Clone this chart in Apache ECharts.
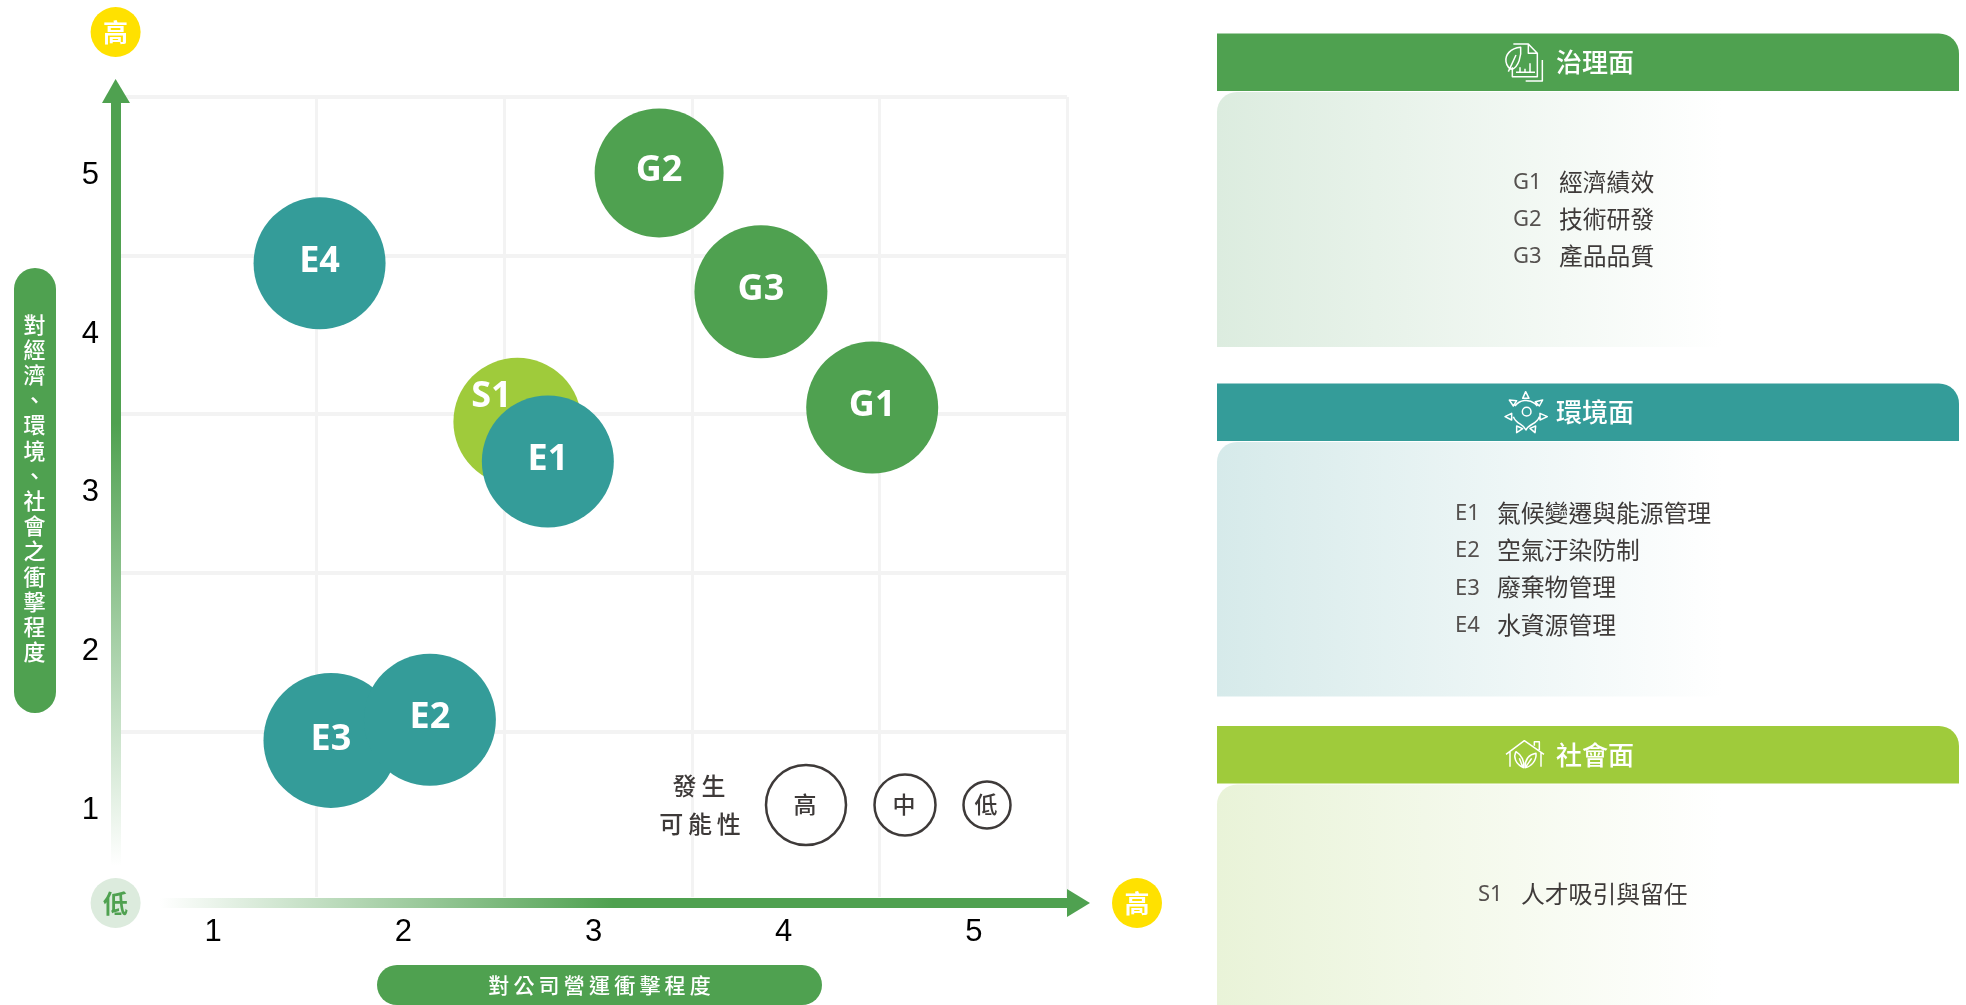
<!DOCTYPE html>
<html>
<head>
<meta charset="utf-8">
<title>重大主題矩陣</title>
<script src="https://cdn.jsdelivr.net/npm/echarts@6/dist/echarts.min.js"></script>
<style>
    html, body { margin: 0; padding: 0; background: #fff; }
    #main { width: 1966px; height: 1005px; }
</style>
</head>
<body>
<div id="main"></div>
<script>
// 資料
var bubbleNames = ['S1', 'E3', 'E2', 'E1', 'E4', 'G2', 'G3', 'G1'];
var bubbleX = [2.60, 1.62, 2.14, 2.76, 1.56, 3.345, 3.88, 4.465];
var bubbleY = [3.43, 1.42, 1.55, 3.18, 4.43, 5.00, 4.25, 3.52];
var tickLabels = [1, 2, 3, 4, 5];
// 格線落在刻度之間
var xGridValues = [1.541, 2.53, 3.518, 4.5, 5.489];
var yGridValues = [1.473, 2.476, 3.479, 4.476, 5.479];
var legendLevels = ['高', '中', '低'];
var legendTitle = ['發生', '可能性'];
var xAxisTitle = '對公司營運衝擊程度';
var yAxisTitle = '對經濟、環境、社會之衝擊程度';
var lowLabel = '低';
var highLabel = '高';
var governanceTitle = '治理面';
var governanceCodes = ['G1', 'G2', 'G3'];
var governanceItems = ['經濟績效', '技術研發', '產品品質'];
var environmentTitle = '環境面';
var environmentCodes = ['E1', 'E2', 'E3', 'E4'];
var environmentItems = ['氣候變遷與能源管理', '空氣汙染防制', '廢棄物管理', '水資源管理'];
var socialTitle = '社會面';
var socialCodes = ['S1'];
var socialItems = ['人才吸引與留任'];

// 樣式
var GREEN = '#4fa150';
var TEAL = '#349c99';
var LIME = '#9fcb3b';
var YELLOW = '#ffe100';
var INK = '#3e3a39';
var CJK = '"Noto Sans CJK TC", sans-serif';
var bubbleColors = { S: LIME, E: TEAL, G: GREEN };
var bubbleSizes = { S1: 128, E1: 132, E2: 132, E3: 135, E4: 132, G1: 132, G2: 129, G3: 133 };
var labelOffsets = { S1: [-26, -25], E1: [0, -2], E2: [0, -2], E3: [0, -1], E4: [0, -2], G1: [0, -2], G2: [0, -2], G3: [0, -2] };

function spaced(s) {
    return s.split('').join('\u2009');
}

function text(str, x, y, size, fill, weight, align, family) {
    return {
        type: 'text',
        z: 20,
        style: {
            text: str,
            x: x,
            y: y,
            fill: fill,
            font: (weight || 400) + ' ' + size + 'px ' + (family || CJK),
            textAlign: align || 'center',
            textVerticalAlign: 'middle'
        }
    };
}

function rect(x, y, w, h, r, fill, z) {
    return { type: 'rect', z: z || 10, shape: { x: x, y: y, width: w, height: h, r: r }, style: { fill: fill } };
}

function dot(cx, cy, r, fill, stroke) {
    return {
        type: 'circle',
        z: 10,
        shape: { cx: cx, cy: cy, r: r },
        style: { fill: fill, stroke: stroke || null, lineWidth: stroke ? 2.5 : 0 }
    };
}

// 圖示
echarts.graphic.registerShape('leafDocIcon', echarts.graphic.extendPath(
    'M100 42 L145 42 L172 70 L172 140 L97 140 L97 112 ' +
    'M145 42 L145 70 L172 70 ' +
    'M187 90 L187 153 L137 153 ' +
    'M108 127 L165 127 M120 112 L120 127 M135 116 L135 127 M150 100 L150 127 ' +
    'M122 52 C90 55 75 75 78 95 C80 110 90 118 97 118 C115 110 125 80 122 52 Z ' +
    'M85 125 L108 75', {}));
echarts.graphic.registerShape('sunIcon', echarts.graphic.extendPath(
    'M137 35 L128 55 L147 55 Z ' +
    'M88 60 L110 62 L100 78 Z ' +
    'M188 60 L166 65 L178 78 Z ' +
    'M75 110 L95 100 L95 120 Z ' +
    'M202 110 L180 100 L180 120 Z ' +
    'M110 158 L110 138 L128 146 Z ' +
    'M165 158 L150 145 L167 138 Z ' +
    'M153 95 A13 13 0 1 1 127 95 A13 13 0 1 1 153 95 Z ' +
    'M105 78 A42 42 0 0 1 172 78 ' +
    'M100 110 C110 135 130 130 138 150 C146 130 170 135 178 110', {}));
echarts.graphic.registerShape('houseIcon', echarts.graphic.extendPath(
    'M78 88 L133 47 L192 88 ' +
    'M163 62 L163 50 L178 50 L178 75 ' +
    'M90 80 L90 125 M183 80 L183 125 ' +
    'M130 128 C105 115 100 95 108 80 C125 90 135 110 130 128 Z ' +
    'M135 128 C135 100 150 88 168 85 C170 105 155 125 135 128 Z ' +
    'M118 100 L128 125 M155 100 L138 125', {}));

function icon(x, y, name) {
    return {
        type: name,
        x: x,
        y: y,
        scaleX: 1 / 3,
        scaleY: 1 / 3,
        z: 20,
        style: { fill: 'none', stroke: '#fff', lineWidth: 4.5, lineJoin: 'round' }
    };
}

function panel(top, panelBottom, color, tint, title, codes, items, codeX, nameX, firstY, iconX, iconY, iconName) {
    var out = [
        rect(1217, top, 742, 57.5, [0, 20, 0, 0], color),
        rect(1217, top + 58.5, 742, panelBottom - top - 58.5, [20, 0, 0, 0], {
            type: 'linear', x: 0, y: 0, x2: 1, y2: 0,
            colorStops: [{ offset: 0, color: tint }, { offset: 0.68, color: '#ffffff' }]
        }),
        text(title, 1595, top + 29, 26, '#fff', 500),
        icon(iconX, iconY, iconName)
    ];
    for (var i = 0; i < codes.length; i++) {
        out.push(text(codes[i], codeX, firstY + 1 + i * 37.2, 22, '#55514f', 400, 'left', '"Noto Sans", sans-serif'));
        out.push(text(items[i], nameX, firstY + i * 37.2, 23.8, INK, 400, 'left'));
    }
    return out;
}

var graphics = [];
// 座標軸箭頭
graphics.push(rect(111, 103, 10, 763, 0, {
    type: 'linear', x: 0, y: 0, x2: 0, y2: 1,
    colorStops: [{ offset: 0, color: GREEN }, { offset: 0.42, color: GREEN }, { offset: 1, color: '#ffffff' }]
}));
graphics.push({ type: 'polygon', z: 10, shape: { points: [[115.6, 79], [102, 103], [130, 103]] }, style: { fill: GREEN } });
graphics.push(rect(160, 898, 907, 10, 0, {
    type: 'linear', x: 0, y: 0, x2: 1, y2: 0,
    colorStops: [{ offset: 0, color: '#ffffff' }, { offset: 0.5, color: GREEN }, { offset: 1, color: GREEN }]
}));
graphics.push({ type: 'polygon', z: 10, shape: { points: [[1067, 889], [1090, 903], [1067, 917]] }, style: { fill: GREEN } });
// 高、低標記
graphics.push(dot(115.6, 32, 25, YELLOW), text(highLabel, 115.6, 32, 25, '#fff', 700));
graphics.push(dot(115.6, 903, 25, '#dcebdd'), text(lowLabel, 115.6, 903, 25, GREEN, 700));
graphics.push(dot(1137, 903, 25, YELLOW), text(highLabel, 1137, 903, 25, '#fff', 700));
// 軸標題
graphics.push(rect(14, 268, 42, 445, 21, GREEN));
graphics.push({
    type: 'text',
    z: 20,
    style: {
        text: yAxisTitle.split('').join('\n'),
        x: 34.5,
        y: 488,
        fill: '#fff',
        font: '500 22px ' + CJK,
        lineHeight: 25.2,
        textAlign: 'center',
        textVerticalAlign: 'middle'
    }
});
graphics.push(rect(377, 965, 445, 40, 20, GREEN));
graphics.push(text(spaced(xAxisTitle), 599.5, 985.5, 21, '#fff', 500));
// 圖例
graphics.push(text(spaced(legendTitle[0]), 699, 786, 24, INK, 500));
graphics.push(text(spaced(legendTitle[1]), 700, 824, 24, INK, 500));
graphics.push(dot(806, 805, 40, '#fff', INK), text(legendLevels[0], 805, 804, 23, INK, 500));
graphics.push(dot(905, 805, 30.5, '#fff', INK), text(legendLevels[1], 904, 804, 23, INK, 500));
graphics.push(dot(987, 805, 23.5, '#fff', INK), text(legendLevels[2], 986, 804, 23, INK, 500));
// 右側說明
graphics = graphics.concat(
    panel(33.5, 347, GREEN, '#dcecdf', governanceTitle, governanceCodes, governanceItems, 1513, 1559, 181.5, 1480, 30, 'leafDocIcon'),
    panel(383.5, 696.5, TEAL, '#d6eaea', environmentTitle, environmentCodes, environmentItems, 1455, 1497, 513, 1480, 380, 'sunIcon'),
    panel(726, 1010, LIME, '#e9f3d8', socialTitle, socialCodes, socialItems, 1478, 1521, 894, 1480, 725, 'houseIcon')
);

var seriesData = bubbleNames.map(function (name, i) {
    return {
        name: name,
        value: [bubbleX[i], bubbleY[i]],
        symbolSize: bubbleSizes[name],
        itemStyle: { color: bubbleColors[name.charAt(0)] },
        label: { offset: labelOffsets[name] }
    };
});

var myChart = echarts.init(document.getElementById('main'));
var option = {
    backgroundColor: '#fff',
    animation: false,
    grid: { left: 120, right: 899, top: 97, bottom: 108 },
    xAxis: {
        type: 'value',
        min: 0.511,
        max: 5.489,
        axisLine: { show: false },
        axisTick: { show: false, customValues: xGridValues },
        splitLine: { show: true, lineStyle: { color: '#f3f3f3', width: 3 } },
        axisLabel: {
            customValues: tickLabels,
            margin: 20,
            color: '#000',
            fontSize: 31,
            fontFamily: '"Liberation Sans", Arial, sans-serif'
        }
    },
    yAxis: {
        type: 'value',
        min: 0.432,
        max: 5.479,
        axisLine: { show: false },
        axisTick: { show: false, customValues: yGridValues },
        splitLine: { show: true, lineStyle: { color: '#f3f3f3', width: 4 } },
        axisLabel: {
            customValues: tickLabels,
            margin: 21,
            formatter: '{n|{value}}',
            rich: {
                n: {
                    padding: [6, 0, 0, 0],
                    color: '#000',
                    fontSize: 31,
                    fontFamily: '"Liberation Sans", Arial, sans-serif'
                }
            }
        }
    },
    series: [
        {
            type: 'scatter',
            data: seriesData,
            itemStyle: { opacity: 1 },
            label: {
                show: true,
                position: 'inside',
                formatter: '{b}',
                color: '#fff',
                fontSize: 36,
                fontWeight: 700,
                fontFamily: '"Noto Sans", sans-serif'
            }
        }
    ],
    graphic: { elements: graphics }
};
myChart.setOption(option);
</script>
</body>
</html>
